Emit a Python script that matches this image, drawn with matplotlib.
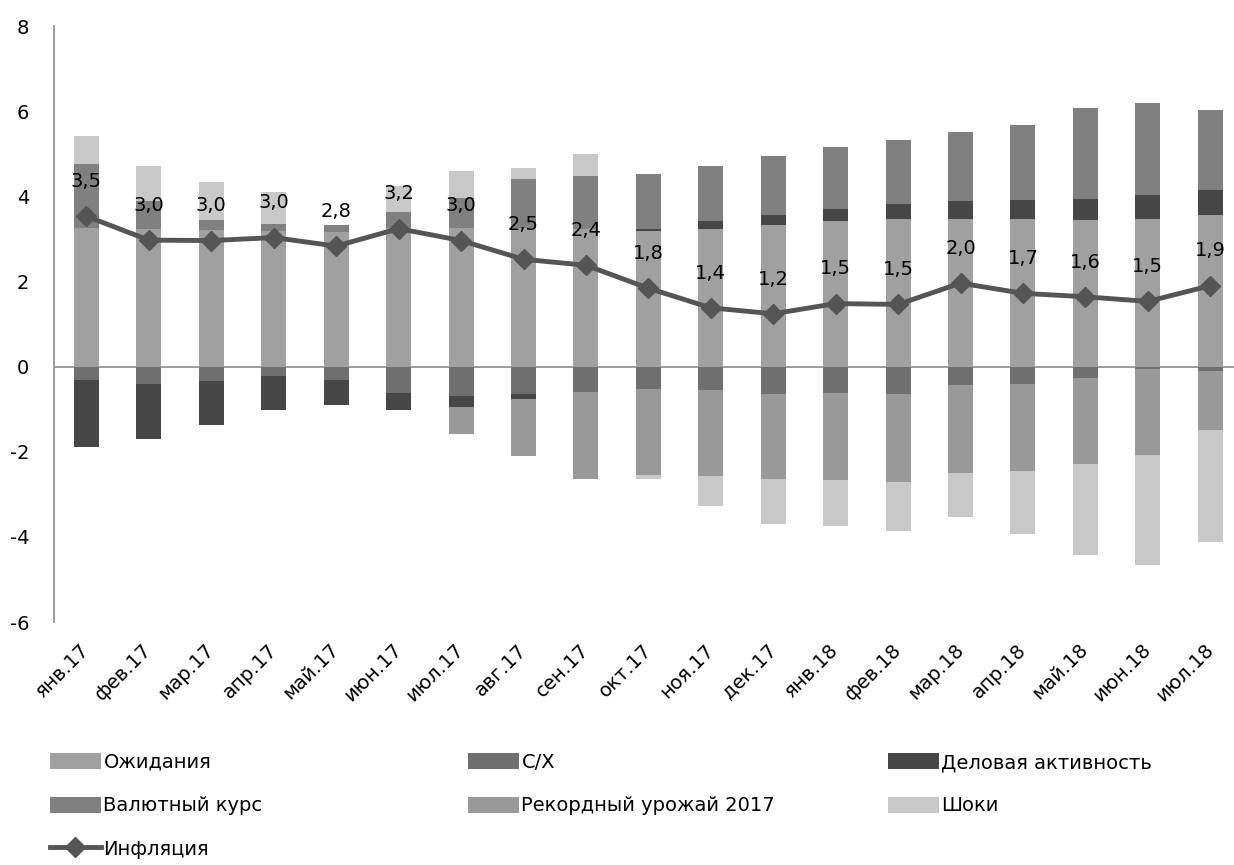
import matplotlib.pyplot as plt
from matplotlib.patches import Patch
from matplotlib.lines import Line2D
import numpy as np

plt.rcParams['font.family'] = ['DejaVu Sans']
plt.rcParams['axes.unicode_minus'] = False

months = ['янв.17', 'фев.17', 'мар.17', 'апр.17', 'май.17', 'июн.17', 'июл.17', 'авг.17',
          'сен.17', 'окт.17', 'ноя.17', 'дек.17', 'янв.18', 'фев.18', 'мар.18', 'апр.18',
          'май.18', 'июн.18', 'июл.18']

# contributions
ozhidaniya = [3.26, 3.23, 3.21, 3.18, 3.15, 3.25, 3.26, 3.25, 3.23, 3.18, 3.23, 3.32,
              3.41, 3.47, 3.47, 3.47, 3.45, 3.47, 3.57]
selkhoz = [-0.31, -0.40, -0.33, -0.21, -0.31, -0.62, -0.69, -0.64, -0.59, -0.52, -0.55, -0.64,
           -0.63, -0.65, -0.43, -0.42, -0.26, -0.05, -0.11]
delovaya = [-1.58, -1.29, -1.05, -0.82, -0.60, -0.41, -0.25, -0.12, 0.0, 0.06, 0.18, 0.23,
            0.30, 0.36, 0.42, 0.45, 0.49, 0.57, 0.57]
valyuta = [1.51, 0.67, 0.23, 0.18, 0.18, 0.38, 0.70, 1.16, 1.24, 1.28, 1.29, 1.39,
           1.45, 1.49, 1.62, 1.76, 2.14, 2.16, 1.88]
urozhai = [0, 0, 0, 0, 0, 0, -0.65, -1.35, -2.04, -2.02, -2.03, -2.01,
           -2.04, -2.06, -2.07, -2.03, -2.03, -2.03, -1.37]
shoki = [0.65, 0.82, 0.90, 0.73, 0.0, 0.62, 0.64, 0.25, 0.52, -0.11, -0.70, -1.05,
         -1.07, -1.16, -1.04, -1.49, -2.13, -2.58, -2.63]
inflation = [3.53, 2.97, 2.96, 3.03, 2.83, 3.24, 2.96, 2.52, 2.38, 1.84, 1.38, 1.24,
             1.48, 1.46, 1.96, 1.72, 1.64, 1.53, 1.90]

series = [
    ('Ожидания', ozhidaniya, '#a0a0a0'),
    ('С/Х', selkhoz, '#6f6f6f'),
    ('Деловая активность', delovaya, '#474747'),
    ('Валютный курс', valyuta, '#808080'),
    ('Рекордный урожай 2017', urozhai, '#999999'),
    ('Шоки', shoki, '#c8c8c8'),
]
line_color = '#555555'

fig = plt.figure(figsize=(12.34, 8.65), dpi=100)
ax = fig.add_axes([54 / 1234, 1 - 622 / 865, 1180 / 1234, 596 / 865])

x = np.arange(len(months))
pos_bottom = np.zeros(len(months))
neg_bottom = np.zeros(len(months))
for name, vals, col in series:
    v = np.array(vals, dtype=float)
    pos = np.where(v > 0, v, 0)
    neg = np.where(v < 0, v, 0)
    ax.bar(x, pos, 0.4, bottom=pos_bottom, color=col, linewidth=0, zorder=2)
    ax.bar(x, neg, 0.4, bottom=neg_bottom, color=col, linewidth=0, zorder=2)
    pos_bottom += pos
    neg_bottom += neg

ax.plot(x, inflation, color=line_color, lw=3.5, marker='D', ms=10, zorder=4)
for xi, yi in zip(x, inflation):
    ax.annotate(f'{yi:.1f}'.replace('.', ','), (xi, yi), xytext=(0, 25),
                textcoords='offset points', ha='center', va='center', fontsize=14, zorder=5)

ax.axhline(0, color='#8c8c8c', lw=1.2, zorder=1)
ax.set_xlim(-0.52, 18.38)
ax.set_ylim(-6, 8)
ax.set_yticks(range(-6, 9, 2))
ax.set_xticks(x)
ax.set_xticklabels(months, rotation=45, ha='right', va='center', rotation_mode='anchor', fontsize=14)
ax.tick_params(axis='both', length=0, labelsize=14)
ax.tick_params(axis='y', pad=18)
ax.tick_params(axis='x', pad=18)
for s in ['top', 'right', 'bottom']:
    ax.spines[s].set_visible(False)
ax.spines['left'].set_color('#8c8c8c')
ax.spines['left'].set_linewidth(1.2)

# legend, three columns placed by hand
handles = {name: Patch(facecolor=col, edgecolor='none') for name, _, col in series}
infl_handle = Line2D([], [], color=line_color, lw=3.5, marker='D', ms=10)
columns = [
    (50, [('Ожидания', handles['Ожидания']), ('Валютный курс', handles['Валютный курс']),
          ('Инфляция', infl_handle)]),
    (468, [('С/Х', handles['С/Х']), ('Рекордный урожай 2017', handles['Рекордный урожай 2017'])]),
    (888, [('Деловая активность', handles['Деловая активность']), ('Шоки', handles['Шоки'])]),
]
for xpix, items in columns:
    leg = fig.legend([h for _, h in items], [n for n, _ in items], loc='upper left',
                     bbox_to_anchor=(xpix / 1234, 1 - 753 / 865), frameon=False, fontsize=14,
                     handlelength=2.6, handleheight=0.9, handletextpad=0.15,
                     labelspacing=1.25, borderpad=0, borderaxespad=0)

fig.savefig('out.png', dpi=100)
